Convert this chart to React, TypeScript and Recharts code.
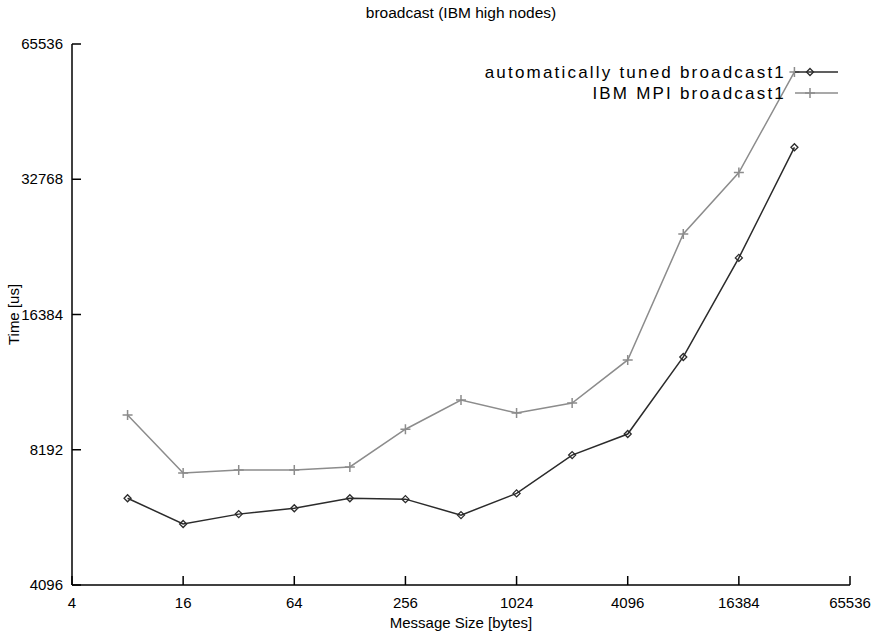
import { LineChart, Line, XAxis, YAxis, Legend } from "recharts";

// message sizes in bytes, times in microseconds
const messageSizes = [8, 16, 32, 64, 128, 256, 512, 1024, 2048, 4096, 8192, 16384, 32768];
const tunedTimes = [6390, 5600, 5890, 6070, 6390, 6360, 5860, 6550, 7970, 8880, 13180, 21900, 38600];
const ibmTimes = [9790, 7270, 7380, 7380, 7500, 9100, 10570, 9890, 10410, 12980, 24750, 33900, 56800];

const xTicks = [4, 16, 64, 256, 1024, 4096, 16384, 65536];
const yTicks = [4096, 8192, 16384, 32768, 65536];

const tunedName = "automatically tuned broadcast1";
const ibmName = "IBM MPI broadcast1";
const legendOrder = ["tuned", "ibm"];

const data = messageSizes.map((size, i) => ({
  size,
  tuned: tunedTimes[i],
  ibm: ibmTimes[i],
}));

const FONT = "'Liberation Sans', Arial, sans-serif";
const TUNED_COLOR = "#2b2b2b";
const IBM_COLOR = "#8c8c8c";
// recharts puts the tick text this far from the axis line (tickSize 6 + tickMargin 2)
const GAP = 8;
const TL = 9; // inward tick length

const BottomTick = (props: any) => {
  const { x, y, payload } = props;
  const ay = y - GAP;
  return (
    <g>
      <line x1={x} y1={ay} x2={x} y2={ay - TL} stroke="#000" strokeWidth={1.5} />
      <text x={x} y={ay + 23} textAnchor="middle" fontSize={15} fontFamily={FONT} fill="#000">
        {payload.value}
      </text>
    </g>
  );
};

const TopTick = (props: any) => {
  const { x, y } = props;
  const ay = y + GAP;
  return <line x1={x} y1={ay} x2={x} y2={ay + TL} stroke="#000" strokeWidth={1.5} />;
};

const LeftTick = (props: any) => {
  const { x, y, payload } = props;
  const ax = x + GAP;
  return (
    <g>
      <line x1={ax} y1={y} x2={ax + TL} y2={y} stroke="#000" strokeWidth={1.5} />
      <text x={ax - 9} y={y + 5} textAnchor="end" fontSize={15} fontFamily={FONT} fill="#000">
        {payload.value}
      </text>
    </g>
  );
};

const RightTick = (props: any) => {
  const { x, y } = props;
  const ax = x - GAP;
  return <line x1={ax} y1={y} x2={ax - TL} y2={y} stroke="#000" strokeWidth={1.5} />;
};

const plusPath = (cx: number, cy: number, r: number) =>
  `M${cx - r},${cy}H${cx + r}M${cx},${cy - r}V${cy + r}`;

const diamondPath = (cx: number, cy: number, r: number) =>
  `M${cx},${cy - r}L${cx + r},${cy}L${cx},${cy + r}L${cx - r},${cy}Z`;

const PlusDot = (p: any) => (
  <path key={p.index} d={plusPath(p.cx, p.cy, 5)} stroke={IBM_COLOR} strokeWidth={1.5} fill="none" />
);

const DiamondDot = (p: any) => (
  <path key={p.index} d={diamondPath(p.cx, p.cy, 3.5)} stroke={TUNED_COLOR} strokeWidth={1.3} fill="none" />
);

const LegendBox = (props: any) => {
  const items = [...(props.payload || [])].sort(
    (a: any, b: any) => legendOrder.indexOf(a.dataKey) - legendOrder.indexOf(b.dataKey)
  );
  return (
    <svg width={893} height={50} style={{ display: "block" }}>
      {items.map((item: any, i: number) => {
        const y = 14 + i * 21;
        const isIbm = item.dataKey === "ibm";
        return (
          <g key={item.value}>
            <text
              x={786}
              y={y + 6}
              textAnchor="end"
              fontSize={17}
              letterSpacing={2.2}
              fontFamily={FONT}
              fill="#000"
            >
              {item.value}
            </text>
            <line x1={795} y1={y} x2={838} y2={y} stroke={item.color} strokeWidth={1.5} />
            {isIbm ? (
              <path d={plusPath(810, y, 5)} stroke={item.color} strokeWidth={1.5} fill="none" />
            ) : (
              <path d={diamondPath(810, y, 3.5)} stroke={item.color} strokeWidth={1.3} fill="none" />
            )}
          </g>
        );
      })}
    </svg>
  );
};

export default function App() {
  return (
    <div style={{ position: "absolute", left: 0, top: 0, width: 893, height: 641, background: "#fff" }}>
      <div
        style={{
          position: "absolute",
          top: 4,
          left: 72,
          width: 778,
          textAlign: "center",
          fontFamily: FONT,
          fontSize: 15.5,
          lineHeight: "18px",
        }}
      >
        broadcast (IBM high nodes)
      </div>
      <LineChart width={893} height={641} data={data} margin={{ top: 44, right: 43, bottom: 0, left: 0 }}>
        <XAxis
          dataKey="size"
          type="number"
          scale="log"
          domain={[4, 65536]}
          allowDataOverflow
          ticks={xTicks}
          interval={0}
          height={56}
          tickSize={6}
          tickMargin={2}
          tickLine={false}
          tick={<BottomTick />}
          axisLine={{ stroke: "#000", strokeWidth: 1.5 }}
          label={{
            value: "Message Size [bytes]",
            position: "insideBottom",
            offset: 13,
            fontSize: 15,
            fontFamily: FONT,
            fill: "#000",
          }}
        />
        <XAxis
          xAxisId="top"
          orientation="top"
          dataKey="size"
          type="number"
          scale="log"
          domain={[4, 65536]}
          allowDataOverflow
          ticks={xTicks}
          interval={0}
          height={0}
          tickSize={6}
          tickMargin={2}
          tickLine={false}
          tick={<TopTick />}
          axisLine={{ stroke: "#000", strokeWidth: 1.5 }}
        />
        <YAxis
          type="number"
          scale="log"
          domain={[4096, 65536]}
          allowDataOverflow
          ticks={yTicks}
          interval={0}
          width={72}
          tickSize={6}
          tickMargin={2}
          tickLine={false}
          tick={<LeftTick />}
          axisLine={{ stroke: "#000", strokeWidth: 1.5 }}
          label={{
            content: (p: any) => {
              const vb = p.viewBox || { x: 0, y: 0, width: 72, height: 541 };
              const cx = vb.x + 19;
              const cy = vb.y + vb.height / 2;
              return (
                <text
                  x={cx}
                  y={cy}
                  transform={`rotate(-90 ${cx} ${cy})`}
                  textAnchor="middle"
                  fontSize={15}
                  fontFamily={FONT}
                  fill="#000"
                >
                  Time [us]
                </text>
              );
            },
          }}
        />
        <YAxis
          yAxisId="right"
          orientation="right"
          type="number"
          scale="log"
          domain={[4096, 65536]}
          allowDataOverflow
          ticks={yTicks}
          interval={0}
          width={0}
          tickSize={6}
          tickMargin={2}
          tickLine={false}
          tick={<RightTick />}
          axisLine={{ stroke: "#000", strokeWidth: 1.5 }}
        />
        <Legend
          layout="vertical"
          align="center"
          verticalAlign="middle"
          wrapperStyle={{ top: 58, left: 0, width: 893, height: 50 }}
          content={<LegendBox />}
        />
        <Line
          dataKey="tuned"
          name={tunedName}
          stroke={TUNED_COLOR}
          strokeWidth={1.5}
          dot={DiamondDot}
          isAnimationActive={false}
        />
        <Line
          dataKey="ibm"
          name={ibmName}
          stroke={IBM_COLOR}
          strokeWidth={1.5}
          dot={PlusDot}
          isAnimationActive={false}
        />
      </LineChart>
    </div>
  );
}
